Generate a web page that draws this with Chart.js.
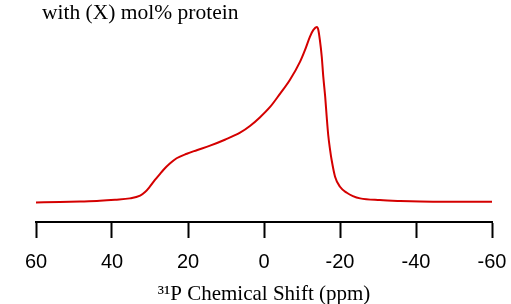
<!DOCTYPE html>
<html>
<head>
<meta charset="utf-8">
<script src="https://cdn.jsdelivr.net/npm/chart.js@4"></script>
<style>
  html, body { margin: 0; padding: 0; background: #fff; }
  #wrap { width: 511px; height: 304px; }
</style>
</head>
<body>
<div id="wrap"><canvas id="spectrum"></canvas></div>
<script>
// 31P NMR spectrum (intensity normalised, peak = 100)
const shiftPpm = [60, 53.7, 48.4, 43.2, 39.2, 35.3, 32.6, 31.3, 30.0, 28.7, 27.4, 26.5, 24.7, 23.0, 20.3, 17.7,
    14.2, 10.3, 6.3, 3.7, 1.1, -1.6, -4.2, -6.8, -9.5, -10.8, -12.1, -13.0, -13.9, -14.3, -14.7, -15.2,
    -15.6, -16.1, -16.5, -16.9, -17.4, -17.8, -18.7, -20.0, -21.8, -23.4, -25.3, -30.5, -35.8, -41.1,
    -48.9, -60];
const intensity = [-0.2, 0, 0.3, 0.7, 1.3, 2.1, 3.7, 5.7, 8.9, 12.6, 16.0, 18.3, 22.1, 25.0, 27.6, 29.6,
    32.2, 35.6, 39.6, 43.4, 48.3, 54.3, 61.8, 69.7, 80.2, 86.9, 94.5, 98.3, 100, 98.3, 92.6, 83.0,
    71.6, 60.2, 48.7, 38.3, 29.7, 24.0, 14.5, 8.7, 5.3, 3.4, 2.1, 1.1, 0.6, 0.3,
    0.2, 0.2];
const xTicks = [60, 40, 20, 0, -20, -40, -60];
const titleText = "with (X) mol% protein";
const axisTitle = "\u00B3\u00B9P Chemical Shift (ppm)";

const points = shiftPpm.map((x, i) => ({ x: x, y: intensity[i] }));

const topTitle = {
    id: "topTitle",
    afterDraw(chart) {
        const ctx = chart.ctx;
        ctx.save();
        ctx.font = "21.5px 'Liberation Serif'";
        ctx.fillStyle = "#000";
        ctx.textBaseline = "alphabetic";
        ctx.fillText(titleText, 42, 19);
        ctx.restore();
    },
};

const ctx = document.querySelector("#spectrum").getContext("2d");

new Chart(ctx, {
    type: "line",
    data: {
        datasets: [
            {
                data: points,
                borderColor: "#d40000",
                borderWidth: 2,
                pointRadius: 0,
                fill: false,
                cubicInterpolationMode: "monotone",
            },
        ],
    },
    options: {
        responsive: true,
        maintainAspectRatio: false,
        animation: false,
        layout: {
            padding: { left: 36, right: 19, top: 0, bottom: 0 },
        },
        scales: {
            x: {
                type: "linear",
                reverse: true,
                min: -60,
                max: 60,
                afterBuildTicks: (scale) => {
                    scale.ticks = xTicks.map((v) => ({ value: v }));
                },
                afterFit: (scale) => {
                    scale.height = 82;
                    scale.paddingLeft = 0;
                    scale.paddingRight = 0;
                },
                border: { display: true, color: "#000", width: 2 },
                grid: {
                    drawOnChartArea: false,
                    drawTicks: true,
                    tickLength: 16,
                    tickWidth: 2,
                    tickColor: "#000",
                },
                ticks: {
                    color: "#000",
                    padding: 12,
                    maxRotation: 0,
                    font: { family: "'Liberation Sans', Arial", size: 20 },
                },
                title: {
                    display: true,
                    text: axisTitle,
                    color: "#000",
                    padding: { top: 0, bottom: -3 },
                    font: { family: "'Liberation Serif'", size: 21 },
                },
            },
            y: {
                display: false,
                min: -11.4,
                max: 115.4,
            },
        },
        plugins: {
            legend: { display: false },
            tooltip: { enabled: false },
        },
    },
    plugins: [topTitle],
});
</script>
</body>
</html>
